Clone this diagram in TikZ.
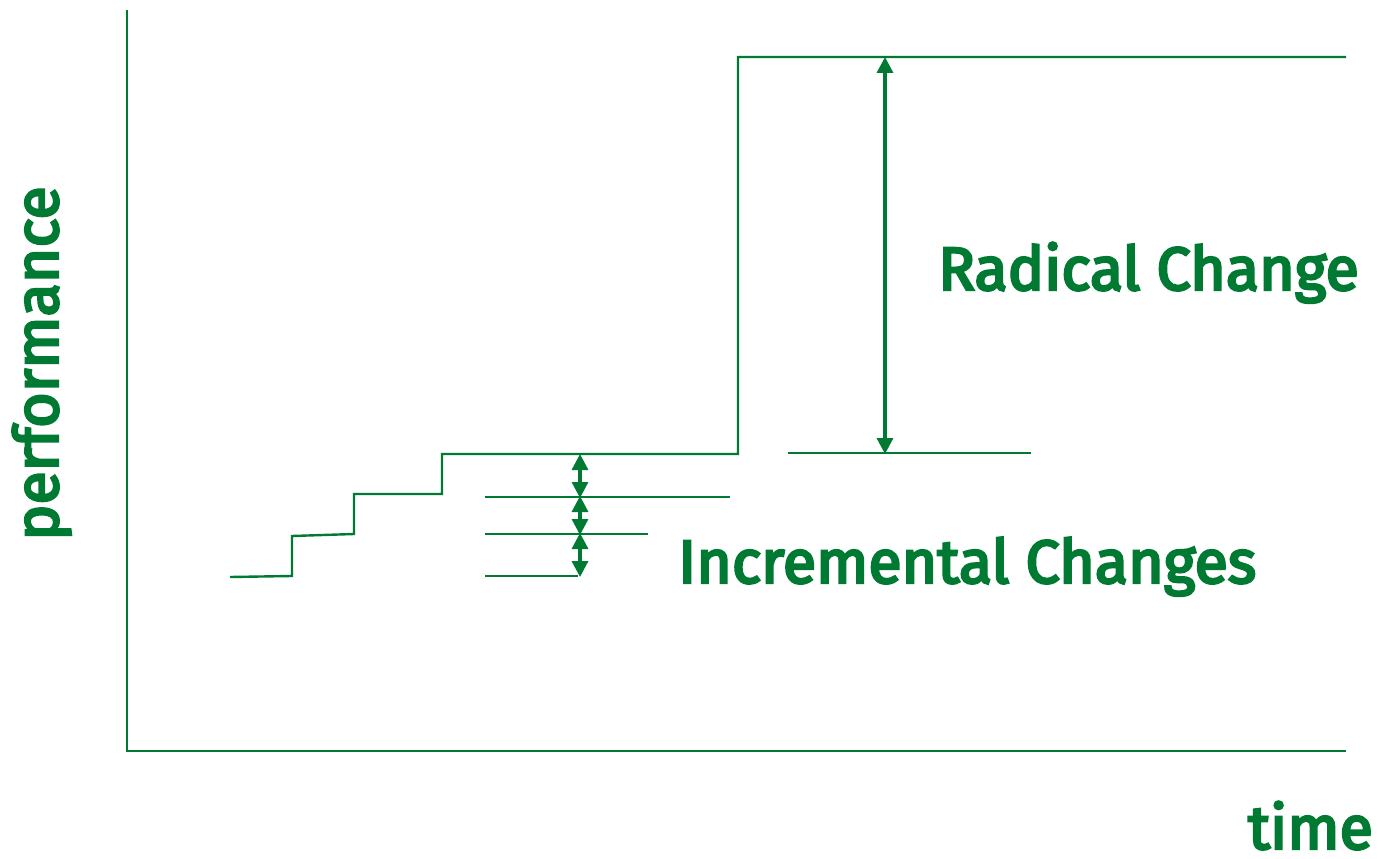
\documentclass[tikz,border=0pt]{standalone}
\usepackage{fontspec}
\setmainfont{Fira Sans}[FakeBold=4]
\usetikzlibrary{arrows.meta}
\definecolor{grn}{RGB}{0,122,51}
\begin{document}
\begin{tikzpicture}[x=1pt,y=-1pt,
  line/.style={draw=grn,line width=2.4pt},
  dbl/.style={draw=grn,line width=3.2pt,{Triangle[width=16pt,length=16pt]}-{Triangle[width=16pt,length=16pt]},shorten <=-1pt,shorten >=-1pt},
  lbl/.style={text=grn,font=\fontsize{61}{64}\selectfont\mdseries,inner sep=0pt}]
\useasboundingbox (0,0) rectangle (1382,859);
% axes
\coordinate (ytop) at (127,10);
\coordinate (orig) at (127,751);
\coordinate (xend) at (1346,751);
\draw[line] (ytop) -- (orig) -- (xend);
% step line
\coordinate (s0) at (230,577);
\coordinate (s1) at (292,576);
\coordinate (s2) at (292,536);
\coordinate (s3) at (354,534);
\coordinate (s4) at (354,494);
\coordinate (s5) at (442,494);
\coordinate (s6) at (442,454);
\coordinate (s7) at (738,454);
\coordinate (s8) at (738,57);
\coordinate (s9) at (1346,57);
\draw[line,line join=miter] (s0) -- (s1) -- (s2) -- (s3) -- (s4) -- (s5) -- (s6) -- (s7) -- (s8) -- (s9);
% reference lines
\coordinate (h1a) at (485,497); \coordinate (h1b) at (730,497);
\coordinate (h2a) at (485,534); \coordinate (h2b) at (648,534);
\coordinate (h3a) at (485,576); \coordinate (h3b) at (578,576);
\draw[line] (h1a) -- (h1b);
\draw[line] (h2a) -- (h2b);
\draw[line] (h3a) -- (h3b);
\coordinate (r1a) at (788,453); \coordinate (r1b) at (1031,453);
\draw[line] (r1a) -- (r1b);
% incremental arrows
\coordinate (a0) at (580,455);
\coordinate (a1) at (580,497);
\coordinate (a2) at (580,534);
\coordinate (a3) at (580,576);
\draw[dbl] (a0) -- (a1);
\draw[dbl] (a1) -- (a2);
\draw[dbl] (a2) -- (a3);
% radical arrow
\coordinate (b0) at (885,58);
\coordinate (b1) at (885,453);
\draw[dbl] (b0) -- (b1);
% labels
\node[lbl,anchor=base west] (radical) at (938,290) {Radical Change};
\node[lbl,anchor=base west] (incr) at (678,583) {Incremental Changes};
\node[lbl,anchor=base east] (time) at (1373,849) {time};
\node[lbl,anchor=base west,rotate=90] (perf) at (58,541) {performance};
\end{tikzpicture}
\end{document}
